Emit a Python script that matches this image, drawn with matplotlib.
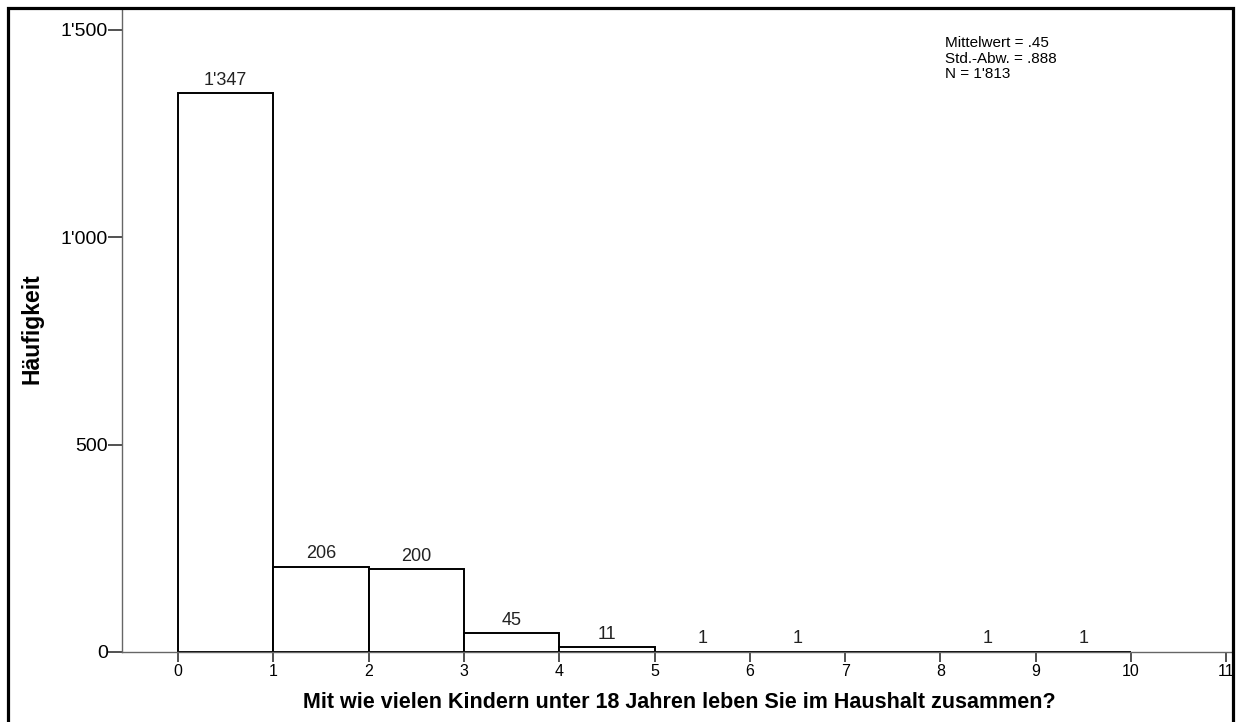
import matplotlib
matplotlib.use("Agg")
import matplotlib.pyplot as plt
from matplotlib.patches import Rectangle

# number of children per household (bins 0-1, 1-2, ... 9-10)
bin_starts = [0, 1, 2, 3, 4, 5, 6, 7, 8, 9]
counts = [1347, 206, 200, 45, 11, 1, 1, 0, 1, 1]
x_ticks = list(range(0, 12))
y_ticks = [0, 500, 1000, 1500]
y_tick_labels = ["0", "500", "1'000", "1'500"]
stats_lines = ["Mittelwert = .45", "Std.-Abw. = .888", "N = 1'813"]


def fmt(n):
    return "{:,}".format(n).replace(",", "'")


plt.rcParams['font.family'] = ['Liberation Sans', 'DejaVu Sans']

fig = plt.figure(figsize=(12.36, 7.22), dpi=100)
W, H = 1236.0, 722.0
ax = fig.add_axes([122 / W, 1 - 652 / H, (1233 - 122) / W, (652 - 8) / H])

ax.bar(bin_starts, counts, width=1, align='edge', color='white',
       edgecolor='black', linewidth=1.4, zorder=2)

for x, c in zip(bin_starts, counts):
    if c > 0:
        ax.annotate(fmt(c), (x + 0.5, c), xytext=(0, 3), textcoords='offset points',
                    ha='center', va='bottom', fontsize=13, color='#222222')

ax.set_xlim(-0.588, 11.07)
ax.set_ylim(0, 1553)
ax.set_xticks(x_ticks)
ax.set_xticklabels([str(t) for t in x_ticks])
ax.set_yticks(y_ticks)
ax.set_yticklabels(y_tick_labels)

ax.tick_params(axis='x', direction='out', length=7, width=1.2, color='#333333',
               labelsize=11.5, pad=2)
ax.tick_params(axis='y', direction='out', length=10, width=1.2, color='#333333',
               labelsize=14, pad=0)

for s in ['top', 'right']:
    ax.spines[s].set_visible(False)
ax.spines['left'].set_color('#666666')
ax.spines['bottom'].set_color('#666666')
ax.spines['left'].set_linewidth(1)
ax.spines['bottom'].set_linewidth(1)

fig.text(679 / W, 1 - 702 / H,
         "Mit wie vielen Kindern unter 18 Jahren leben Sie im Haushalt zusammen?",
         ha='center', va='center', fontsize=15.5, fontweight='bold')
fig.text(32 / W, 1 - 329 / H, "Häufigkeit", rotation=90,
         ha='center', va='center', fontsize=16.5, fontweight='bold')

fig.text(945 / W, 1 - 36 / H, "\n".join(stats_lines), ha='left', va='top',
         fontsize=11, linespacing=1.15)

# outer frame
fig.patches.append(Rectangle((7.5 / W, -0.05), (1233 - 7.5) / W, 1.05 - 7.5 / H,
                             transform=fig.transFigure, fill=False,
                             edgecolor='black', linewidth=2.3, zorder=10))

fig.savefig("out.png", dpi=100)
